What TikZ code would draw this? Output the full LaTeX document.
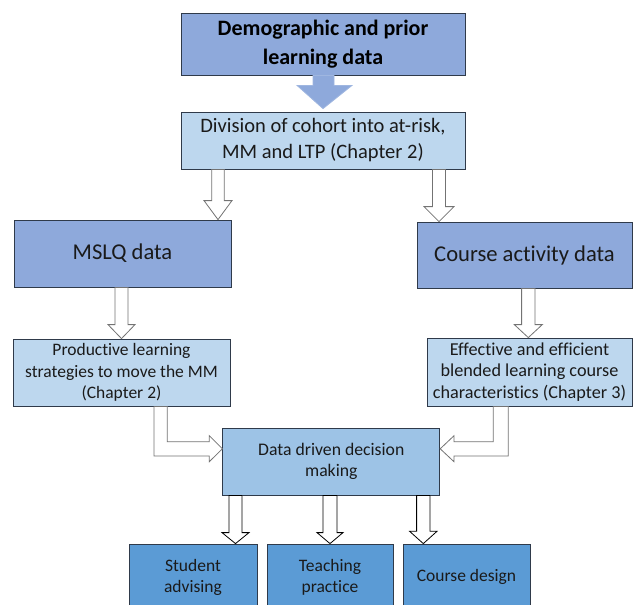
\documentclass[tikz,border=0pt]{standalone}
\usepackage{fontspec}
\setmainfont{Carlito}[Ligatures=NoCommon]
\usetikzlibrary{calc}
\definecolor{midblue}{HTML}{8EA9DB}
\definecolor{lightblue}{HTML}{BDD7EE}
\definecolor{decblue}{HTML}{9DC3E6}
\definecolor{deepblue}{HTML}{5B9BD5}
\definecolor{boxline}{HTML}{2F3A4A}
\definecolor{txt}{HTML}{1A1A1A}
\tikzset{
  box/.style={draw=boxline, line width=0.8pt, align=center, text=txt, inner sep=2pt},
  hollow/.style={draw=black!55, fill=white, line width=0.8pt, line join=miter},
  hollowdark/.style={draw=black, fill=white, line width=0.8pt, line join=miter}
}
% vertical block arrow: style, x-centre, from anchor, to anchor, half shaft, half head, head length
\newcommand\vblk[7]{%
  \draw[#1] let \p1=(#3), \p2=(#4) in
    ({(#2-#5)*1pt},\y1) -- ({(#2-#5)*1pt},{\y2+#7pt}) -- ({(#2-#6)*1pt},{\y2+#7pt})
    -- ({#2pt},\y2) -- ({(#2+#6)*1pt},{\y2+#7pt}) -- ({(#2+#5)*1pt},{\y2+#7pt})
    -- ({(#2+#5)*1pt},\y1) -- cycle;}
\begin{document}
\begin{tikzpicture}[x=1pt,y=-1pt]
\useasboundingbox (0,0) rectangle (635,605);
\clip (0,0) rectangle (635,605);
% nodes
\node[box, fill=midblue, minimum width=284pt, minimum height=62pt,
      font=\fontsize{22}{29}\selectfont\bfseries, text=black] (demo) at (323,44)
      {Demographic and prior\\learning data};
\node[box, fill=lightblue, minimum width=284pt, minimum height=57pt,
      font=\fontsize{20.5}{26}\selectfont] (div) at (323,140.5)
      {Division of cohort into at-risk,\\MM and LTP (Chapter 2)};
\node[box, fill=midblue, minimum width=217pt, minimum height=67pt,
      font=\fontsize{22.6}{26}\selectfont] (mslq) at (122.5,253.5) {MSLQ data};
\node[box, fill=midblue, minimum width=215pt, minimum height=66pt,
      font=\fontsize{22.6}{26}\selectfont] (cad) at (524.5,255) {Course activity data};
\node[box, fill=lightblue, minimum width=217pt, minimum height=67pt,
      font=\fontsize{17.5}{21.5}\selectfont] (prod) at (121.5,372.5)
      {Productive learning\\strategies to move the MM\\(Chapter 2)};
\node[box, fill=lightblue, minimum width=205pt, minimum height=68pt,
      font=\fontsize{18.2}{21.3}\selectfont] (eff) at (529.5,372)
      {Effective and efficient\\blended learning course\\characteristics (Chapter 3)};
\node[box, fill=decblue, minimum width=217pt, minimum height=67pt,
      font=\fontsize{17.7}{21}\selectfont] (ddd) at (331.3,461.5)
      {Data driven decision\\making};
\node[box, fill=deepblue, minimum width=128pt, minimum height=66pt,
      font=\fontsize{17.5}{21}\selectfont] (stud) at (193,577) {Student\\advising};
\node[box, fill=deepblue, minimum width=126pt, minimum height=66pt,
      font=\fontsize{17.5}{21}\selectfont] (teach) at (330,577) {Teaching\\practice};
\node[box, fill=deepblue, minimum width=127pt, minimum height=66pt,
      font=\fontsize{17.5}{21}\selectfont] (cdes) at (466.5,577) {Course design};
% big filled arrow
\draw[fill=midblue, draw=midblue!85!white, line width=0.8pt] let \p1=(demo.south), \p2=(div.north) in
  (313pt,\y1) -- (313pt,{\y1-10pt}) -- (297pt,{\y1-10pt}) -- (323pt,{\y2+3pt})
  -- (352pt,{\y1-10pt}) -- (334pt,{\y1-10pt}) -- (334pt,\y1) -- cycle;
% hollow block arrows
\vblk{hollow}{218}{div.south}{mslq.north}{6.3}{14}{19}
\vblk{hollow}{439}{div.south}{cad.north}{6.5}{15}{15}
\vblk{hollow}{121.5}{mslq.south}{prod.north}{6.5}{13.5}{14}
\vblk{hollow}{528.3}{cad.south}{eff.north}{6.7}{14}{13}
\vblk{hollowdark}{235.5}{ddd.south}{stud.north}{6.5}{13.5}{11}
\vblk{hollowdark}{330}{ddd.south}{teach.north}{7}{13}{11}
\vblk{hollowdark}{423.3}{ddd.south}{cdes.north}{6.7}{13.7}{12.3}
% elbow arrows
\draw[hollow] let \p1=(prod.south), \p2=(ddd.west) in
  (154pt,\y1) -- (154pt,-456pt) -- (209.3pt,-456pt) -- (209.3pt,-461.7pt)
  -- (\x2,-448.8pt) -- (209.3pt,-435.7pt) -- (209.3pt,-441.7pt)
  -- (167.3pt,-441.7pt) -- (167.3pt,\y1) -- cycle;
\draw[hollow] let \p1=(eff.south), \p2=(ddd.east) in
  (508.3pt,\y1) -- (508.3pt,-456pt) -- (454pt,-456pt) -- (454pt,-461.7pt)
  -- (\x2,-448.8pt) -- (454pt,-435.7pt) -- (454pt,-441.7pt)
  -- (493.3pt,-441.7pt) -- (493.3pt,\y1) -- cycle;
\end{tikzpicture}
\end{document}
